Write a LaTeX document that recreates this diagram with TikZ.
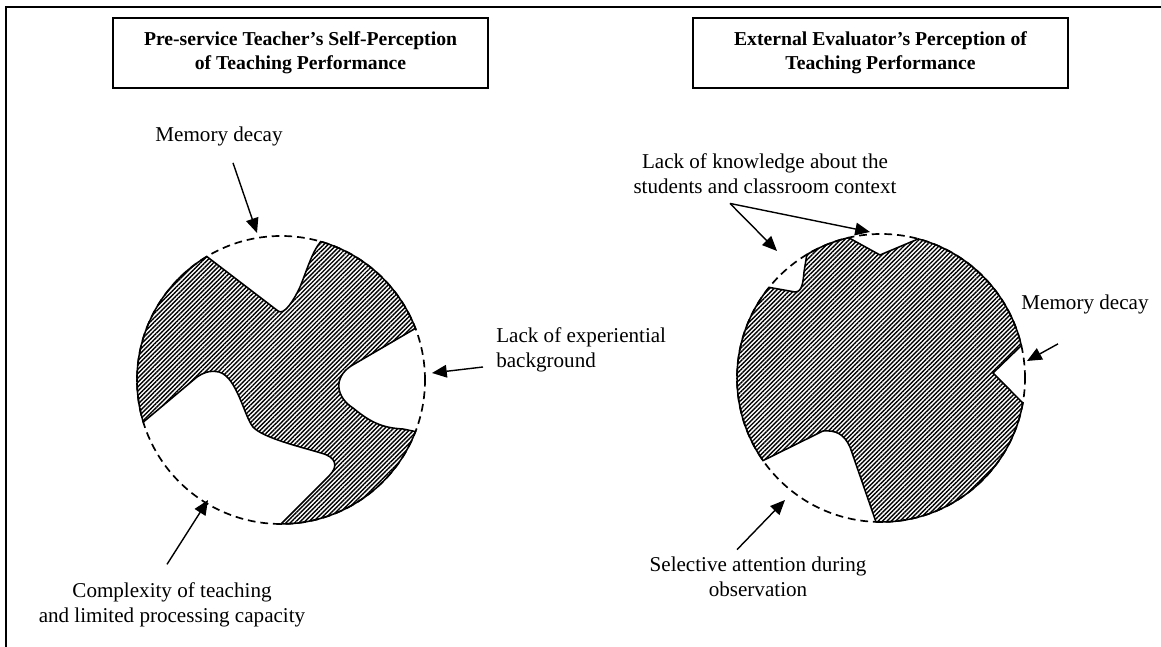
\documentclass[tikz,border=0pt]{standalone}
\usepackage{fontspec}
\setmainfont{Liberation Serif}
\usetikzlibrary{arrows.meta,patterns.meta}

\begin{document}
\begin{tikzpicture}[x=0.25mm,y=0.25mm,
    title/.style={draw,line width=1pt,font=\bfseries\fontsize{14}{17}\selectfont,align=center,
                  minimum width=93.75mm,minimum height=17.5mm},
    lbl/.style={inner sep=0pt,font=\fontsize{15}{18}\selectfont,align=center},
    arr/.style={-{Triangle[length=10.5pt,width=9pt]},line width=1pt},
    rim/.style={dash pattern=on 5.5pt off 3.5pt,line width=1.2pt},
    hatch/.style={line width=1.1pt,pattern={Lines[angle=45,distance=2.2pt,line width=1pt]}}]
    \useasboundingbox (0,0) rectangle (1161,647);

    % outer frame (top and left only)
    \draw[line width=1pt] (1161,640) -- (6,640) -- (6,0);

    % titles
    \node[title] (titleL) at (300.5,594) {Pre-service Teacher’s Self-Perception\\of Teaching Performance};
    \node[title] (titleR) at (880.5,594) {External Evaluator’s Perception of\\Teaching Performance};

    % left: self-perception
    \begin{scope}[shift={(281,267)}]
      \draw[rim] (0,0) circle[radius=144];
      \draw[hatch] (121:144) -- (-3,69) .. controls (3,64) and (13,80) .. (19,93)
          .. controls (26,110) and (31,128) .. (74:144)
          arc[start angle=74,end angle=21,radius=144]
          -- (70,14) .. controls (52,2) and (55,-17) .. (72,-28)
          .. controls (88,-41) and (100,-48) .. (122,-49)
          -- (-21:144)
          arc[start angle=-21,end angle=-90,radius=144]
          -- (48,-96) .. controls (58,-86) and (55,-77) .. (40,-73)
          .. controls (20,-67) and (-18,-58) .. (-28,-47)
          .. controls (-37,-36) and (-44,3) .. (-62,8)
          .. controls (-72,10) and (-78,7) .. (-84,3)
          -- (197:144)
          arc[start angle=197,end angle=121,radius=144] -- cycle;
    \end{scope}

    % right: external evaluator
    \begin{scope}[shift={(881,269)}]
      \draw[rim] (0,0) circle[radius=144];
      \draw[hatch] (103:144) -- (-1,123) -- (75:144)
          arc[start angle=75,end angle=13,radius=144]
          -- (112,5) -- (-10:144)
          arc[start angle=-10,end angle=-92,radius=144]
          -- (-31,-69) .. controls (-37,-56) and (-45,-52) .. (-58,-53)
          -- (215:144)
          arc[start angle=215,end angle=141,radius=144]
          -- (-86,86) .. controls (-79,86) and (-78,95) .. (-77,106)
          -- (121:144)
          arc[start angle=121,end angle=103,radius=144] -- cycle;
    \end{scope}

    % labels
    \node[lbl] (memL) at (219,511) {Memory decay};
    \node[lbl,anchor=west,align=left] (exp) at (496,297) {Lack of experiential\\background};
    \node[lbl] (cplx) at (172,42) {Complexity of teaching\\and limited processing capacity};
    \node[lbl] (lkn) at (765,473) {Lack of knowledge about the\\students and classroom context};
    \node[lbl] (memR) at (1085,343) {Memory decay};
    \node[lbl] (sel) at (758,70) {Selective attention during\\observation};

    % arrow tips
    \coordinate (memLtip) at (257,414);
    \coordinate (exptip) at (432,274);
    \coordinate (cplxtip) at (208,147);
    \coordinate (lkntipA) at (870,415);
    \coordinate (lkntipB) at (777,396);
    \coordinate (memRtip) at (1027,286);
    \coordinate (seltip) at (785,147);

    % arrows
    \draw[arr] ([shift={(14,-17)}]memL.south) -- (memLtip);
    \draw[arr] ([shift={(-13,-17)}]exp.west) -- (exptip);
    \draw[arr] ([shift={(-5,18)}]cplx.north) -- (cplxtip);
    \draw[arr] ([shift={(-35,-9)}]lkn.south) -- (lkntipA);
    \draw[arr] ([shift={(-35,-9)}]lkn.south) -- (lkntipB);
    \draw[arr] ([shift={(-27,-30)}]memR.south) -- (memRtip);
    \draw[arr] ([shift={(-21,7)}]sel.north) -- (seltip);
\end{tikzpicture}
\end{document}
